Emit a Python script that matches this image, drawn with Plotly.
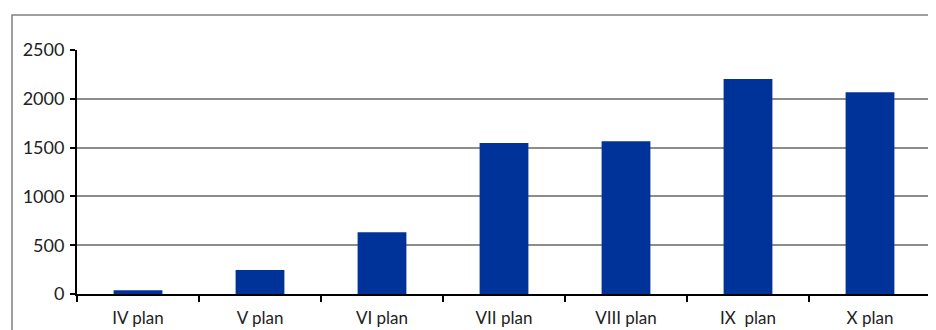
import plotly.graph_objects as go

# plans and their values
plans = ["IV plan", "V plan", "VI plan", "VII plan", "VIII plan", "IX  plan", "X plan"]
values = [38, 245, 632, 1547, 1566, 2203, 2068]

fig = go.Figure()
fig.add_trace(go.Bar(x=plans, y=values, marker_color="#003399", marker_line_width=0, width=0.4))

# page body has an 8px margin, so the figure is shrunk/shifted to fit the window
fig.update_layout(
    width=928, height=322,
    margin=dict(l=69, r=5, t=42, b=36),
    paper_bgcolor="white", plot_bgcolor="white",
    font=dict(family="Lato, Open Sans, sans-serif", size=16, color="#222"),
    showlegend=False,
    bargap=0.6,
)
fig.update_xaxes(
    showline=True, linecolor="black", linewidth=2,
    ticks="outside", tickson="boundaries", ticklen=6, tickwidth=2, tickcolor="black",
    showgrid=False, tickfont=dict(size=17), ticklabelstandoff=8, automargin=False,
)
fig.update_yaxes(
    range=[0, 2500], dtick=500,
    showline=True, linecolor="black", linewidth=2,
    ticks="outside", ticklen=5, tickwidth=1.5, tickcolor="black",
    showgrid=True, gridcolor="#8c8c8c", gridwidth=1.5,
    zeroline=False, tickfont=dict(size=18), ticklabelstandoff=2, automargin=False,
)

# outer chart frame and right border of plot area
fig.add_shape(type="rect", xref="paper", yref="paper",
              x0=-0.0761, x1=1.3, y0=-0.3, y1=1.1434,
              line=dict(color="#808080", width=1.5), layer="below")
fig.add_shape(type="line", xref="paper", yref="paper",
              x0=1, x1=1, y0=0, y1=1,
              line=dict(color="#8c8c8c", width=1.5))

fig.write_html("out.html")
